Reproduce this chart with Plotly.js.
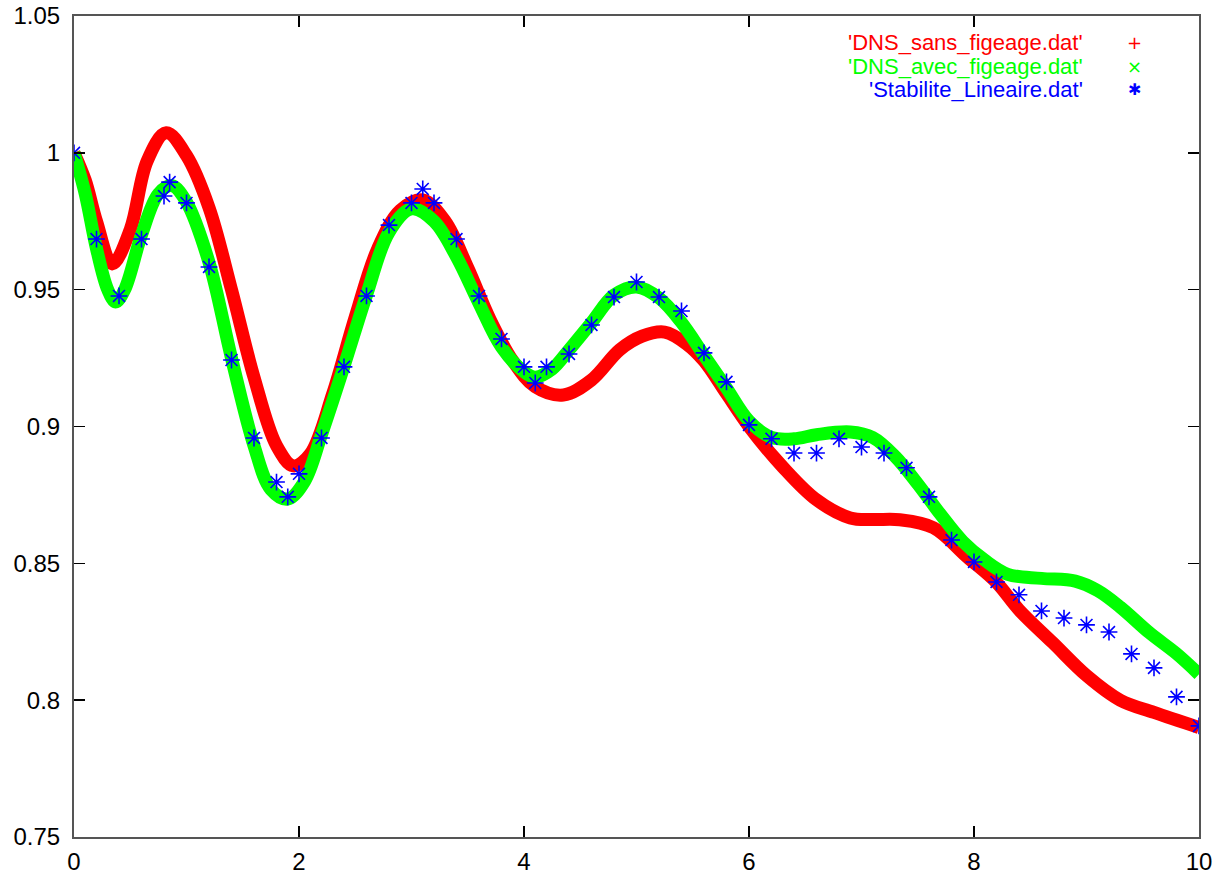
<!DOCTYPE html>
<html>
<head>
<meta charset="utf-8">
<script src="https://cdn.plot.ly/plotly-3.0.1.min.js"></script>
<style>
html,body{margin:0;padding:0;background:#fff;}
#chart{width:1232px;height:875px;}
</style>
</head>
<body>
<div id="chart"></div>
<script>
// ---- data ----
const seriesNames = ["'DNS_sans_figeage.dat'", "'DNS_avec_figeage.dat'", "'Stabilite_Lineaire.dat'"];

const sansX = [0, 0.1, 0.2, 0.34, 0.5, 0.65, 0.82, 1.0, 1.2, 1.4, 1.6, 1.8, 1.95, 2.1, 2.3, 2.5, 2.7, 2.9, 3.1, 3.3, 3.5, 3.7, 3.9, 4.1, 4.35, 4.6, 4.85, 5.05, 5.25, 5.45, 5.6, 5.8, 6.0, 6.3, 6.6, 6.9, 7.1, 7.34, 7.64, 7.94, 8.2, 8.4, 8.7, 9.0, 9.3, 9.6, 10];
const sansY = [1.0, 0.990, 0.975, 0.9594, 0.972, 0.997, 1.0073, 0.999, 0.980, 0.950, 0.918, 0.893, 0.8856, 0.890, 0.912, 0.940, 0.965, 0.979, 0.9828, 0.975, 0.958, 0.939, 0.924, 0.9145, 0.9115, 0.917, 0.928, 0.933, 0.9345, 0.930, 0.924, 0.912, 0.900, 0.8852, 0.8732, 0.8666, 0.866, 0.8659, 0.863, 0.8523, 0.843, 0.833, 0.821, 0.809, 0.800, 0.7955, 0.790];

const avecX = [0, 0.1, 0.2, 0.3, 0.37, 0.45, 0.6, 0.75, 0.87, 1.0, 1.2, 1.4, 1.6, 1.75, 1.9, 2.05, 2.2, 2.4, 2.6, 2.8, 3.0, 3.2, 3.4, 3.6, 3.8, 4.0, 4.1, 4.25, 4.4, 4.6, 4.8, 5.0, 5.2, 5.4, 5.6, 5.8, 6.0, 6.2, 6.4, 6.6, 6.9, 7.1, 7.3, 7.5, 7.7, 7.9, 8.1, 8.3, 8.6, 8.9, 9.1, 9.3, 9.56, 9.8, 10];
const avecY = [1.0, 0.985, 0.965, 0.950, 0.9455, 0.950, 0.970, 0.985, 0.988, 0.982, 0.960, 0.925, 0.893, 0.877, 0.8735, 0.880, 0.897, 0.922, 0.948, 0.971, 0.9795, 0.975, 0.962, 0.945, 0.929, 0.920, 0.918, 0.921, 0.928, 0.938, 0.948, 0.951, 0.947, 0.938, 0.926, 0.914, 0.902, 0.896, 0.8955, 0.897, 0.898, 0.896, 0.889, 0.879, 0.868, 0.858, 0.851, 0.846, 0.8445, 0.8435, 0.840, 0.834, 0.8246, 0.817, 0.8095];

const stabX = [0, 0.2, 0.4, 0.6, 0.8, 0.85, 1.0, 1.2, 1.4, 1.6, 1.8, 1.9, 2.0, 2.2, 2.4, 2.6, 2.8, 3.0, 3.1, 3.2, 3.4, 3.6, 3.8, 4.0, 4.1, 4.2, 4.4, 4.6, 4.8, 5.0, 5.2, 5.4, 5.6, 5.8, 6.0, 6.2, 6.4, 6.6, 6.8, 7.0, 7.2, 7.4, 7.6, 7.8, 8.0, 8.2, 8.4, 8.6, 8.8, 9.0, 9.2, 9.4, 9.6, 9.8, 10];
const stabY = [1.0, 0.9685, 0.9477, 0.9685, 0.9842, 0.9893, 0.9817, 0.9583, 0.9243, 0.8958, 0.8797, 0.8743, 0.8827, 0.8958, 0.9218, 0.9477, 0.9736, 0.9817, 0.9868, 0.9817, 0.9685, 0.9477, 0.9320, 0.9218, 0.9159, 0.9218, 0.9265, 0.9371, 0.9473, 0.9528, 0.9473, 0.9422, 0.9269, 0.9163, 0.9006, 0.8955, 0.8903, 0.8903, 0.8955, 0.8925, 0.8903, 0.8849, 0.8743, 0.8585, 0.8505, 0.8432, 0.8385, 0.8326, 0.8300, 0.8275, 0.8249, 0.8169, 0.8118, 0.8012, 0.7906];

const xTickVals = [0, 2, 4, 6, 8, 10];
const xTickText = ["0", "2", "4", "6", "8", "10"];
const yTickVals = [0.75, 0.8, 0.85, 0.9, 0.95, 1.0, 1.05];
const yTickText = ["0.75", "0.8", "0.85", "0.9", "0.95", "1", "1.05"];

const RED = '#ff0000', GREEN = '#00ff00', BLUE = '#0000ff';

const traces = [
  {x: sansX, y: sansY, mode: 'lines', name: seriesNames[0],
   line: {color: RED, width: 13, shape: 'spline', smoothing: 1.0}},
  {x: avecX, y: avecY, mode: 'lines', name: seriesNames[1],
   line: {color: GREEN, width: 13, shape: 'spline', smoothing: 1.0}},
  {x: stabX, y: stabY, mode: 'markers', name: seriesNames[2],
   marker: {symbol: 'asterisk-open', size: 14, color: BLUE, line: {color: 'rgba(0,0,255,0.75)', width: 1.6}}}
];

const font = {family: 'Liberation Sans, Arial, sans-serif', size: 24, color: '#000'};

const legendRowsY = [0.968, 0.939, 0.910];
const legendColors = [RED, GREEN, BLUE];
const legendSymbols = ['+', '\u00d7', '\u2731'];
const annotations = [];
for (let i = 0; i < 3; i++) {
  annotations.push({xref: 'paper', yref: 'paper', x: 0.898, y: legendRowsY[i], xanchor: 'right', yanchor: 'middle',
    text: seriesNames[i], showarrow: false, borderpad: 0,
    font: {family: 'Liberation Sans, Arial, sans-serif', size: 22, color: legendColors[i]}});
  annotations.push({xref: 'paper', yref: 'paper', x: 0.943, y: legendRowsY[i], xanchor: 'center', yanchor: 'middle',
    text: legendSymbols[i], showarrow: false, borderpad: 0,
    font: {family: 'DejaVu Sans, sans-serif', size: i === 2 ? 16 : 18, color: legendColors[i]}});
}

const axisCommon = {
  showgrid: false, zeroline: false, showline: true, linecolor: '#555', linewidth: 2,
  mirror: 'ticks', ticks: 'inside', ticklen: 11, tickwidth: 1.5, tickcolor: '#000',
  tickfont: font, automargin: false
};

const layout = {
  width: 1232, height: 875,
  margin: {l: 74, r: 33, t: 16, b: 38},
  paper_bgcolor: '#fff', plot_bgcolor: '#fff',
  showlegend: false,
  font: font,
  xaxis: Object.assign({}, axisCommon, {range: [0, 10], tickmode: 'array', tickvals: xTickVals, ticktext: xTickText, ticklabelstandoff: 2}),
  yaxis: Object.assign({}, axisCommon, {range: [0.75, 1.05], tickmode: 'array', tickvals: yTickVals, ticktext: yTickText, ticklabelstandoff: 7}),
  annotations: annotations
};

Plotly.newPlot('chart', traces, layout, {displayModeBar: false, staticPlot: true});
</script>
</body>
</html>
